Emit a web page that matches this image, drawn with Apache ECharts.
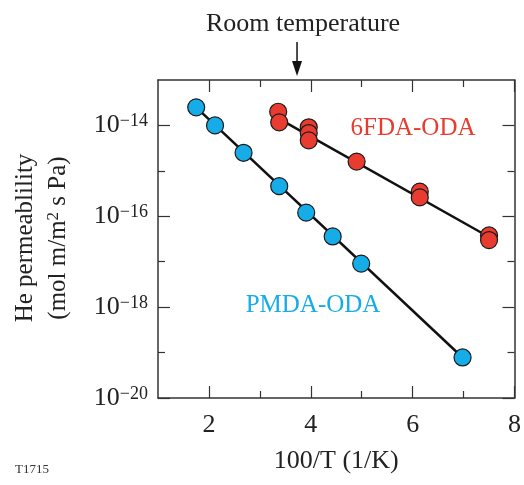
<!DOCTYPE html>
<html><head><meta charset="utf-8">
<script src="https://cdn.jsdelivr.net/npm/echarts@6/dist/echarts.min.js"></script>
<style>html,body{margin:0;padding:0;background:#fff}#c{width:524px;height:485px}</style>
</head><body><div id="c"></div>
<script>
// Data (x = 100/T in 1/K, y = He permeability in mol m/m2 s Pa)
var pmdaX = [1.75, 2.12, 2.68, 3.38, 3.91, 4.43, 4.99, 6.98];
var pmdaY = [2.5e-14, 1.0e-14, 2.5e-15, 4.6e-16, 1.2e-16, 3.6e-17, 9.1e-18, 7.8e-20];
var fdaX = [3.36, 3.38, 3.96, 3.96, 3.96, 4.90, 6.14, 6.14, 7.50, 7.50];
var fdaY = [2.0e-14, 1.17e-14, 9.1e-15, 6.8e-15, 4.7e-15, 1.6e-15, 3.5e-16, 2.6e-16, 3.8e-17, 3.0e-17];
var pmdaFitX = [1.75, 6.98];
var pmdaFitY = [2.5e-14, 7.8e-20];
var fdaFitX = [3.38, 7.50];
var fdaFitY = [1.4e-14, 3.5e-17];
var xMajorTicks = [2, 4, 6, 8];
var xMinorTicks = [3, 5, 7];
var yMajorTicks = [1e-20, 1e-18, 1e-16, 1e-14];
var yMinorTicks = [1e-19, 1e-17, 1e-15];
var roomTempX = 3.73;

var FONT = 'Liberation Serif';
var BLUE = '#16ace8';
var RED = '#e83c30';

function zip(xs, ys) { return xs.map(function (x, i) { return [x, ys[i]]; }); }

var chart = echarts.init(document.getElementById('c'), null, {renderer: 'canvas'});

function xAx(pos, ticks, len, labels, showLine) {
  return {
    type: 'value', position: pos, min: 1, max: 8, interval: 1,
    axisLine: {show: showLine, onZero: false, lineStyle: {color: '#333', width: 1.5}},
    splitLine: {show: false},
    axisTick: {show: true, inside: true, length: len, customValues: ticks, lineStyle: {color: '#333', width: 1.2}},
    axisLabel: labels ? {show: true, customValues: ticks, margin: 14, fontFamily: FONT, fontSize: 26, color: '#222'} : {show: false},
    name: labels && pos === 'bottom' ? '100/T (1/K)' : '',
    nameLocation: 'middle', nameGap: 50,
    nameTextStyle: {fontFamily: FONT, fontSize: 26, color: '#222'}
  };
}
function yAx(pos, ticks, len, labels, showLine) {
  return {
    type: 'log', logBase: 10, position: pos, min: 1e-20, max: 1e-13,
    axisLine: {show: showLine, onZero: false, lineStyle: {color: '#333', width: 1.5}},
    splitLine: {show: false},
    axisTick: {show: true, inside: true, length: len, customValues: ticks, lineStyle: {color: '#333', width: 1.2}},
    axisLabel: labels ? {
      show: true, customValues: ticks, margin: 10,
      formatter: function (v) {
        var e = Math.round(Math.log10(v));
        return '{b|10}{s|\u2212' + (-e) + '}';
      },
      rich: {
        b: {fontFamily: FONT, fontSize: 26, color: '#222', verticalAlign: 'bottom'},
        s: {fontFamily: FONT, fontSize: 18, color: '#222', verticalAlign: 'top'}
      }
    } : {show: false}
  };
}

var option = {
  backgroundColor: '#fff',
  animation: false,
  grid: {left: 158, right: 7, top: 80, bottom: 87},
  xAxis: [
    xAx('bottom', xMajorTicks, 12, true, true),
    xAx('bottom', xMinorTicks, 7, false, false),
    xAx('top', xMajorTicks, 12, false, true),
    xAx('top', xMinorTicks, 7, false, false)
  ],
  yAxis: [
    yAx('left', yMajorTicks, 12, true, true),
    yAx('left', yMinorTicks, 7, false, false),
    yAx('right', yMajorTicks, 12, false, true),
    yAx('right', yMinorTicks, 7, false, false)
  ],
  series: [
    {type: 'line', data: zip(pmdaFitX, pmdaFitY), symbol: 'none', z: 2,
     lineStyle: {color: '#111', width: 2.5}},
    {type: 'line', data: zip(fdaFitX, fdaFitY), symbol: 'none', z: 2,
     lineStyle: {color: '#111', width: 2.5}},
    {type: 'scatter', data: zip(pmdaX, pmdaY), symbol: 'circle', symbolSize: 17, z: 3,
     itemStyle: {color: BLUE, borderColor: '#1a1a1a', borderWidth: 1.2, opacity: 1}},
    {type: 'scatter', data: zip(fdaX, fdaY), symbol: 'circle', symbolSize: 17, z: 3,
     itemStyle: {color: RED, borderColor: '#1a1a1a', borderWidth: 1.2, opacity: 1}}
  ]
};
chart.setOption(option);

function px(x, y) { return chart.convertToPixel({xAxisIndex: 0, yAxisIndex: 0}, [x, y]); }
var arrowX = px(roomTempX, 1e-13)[0];

chart.setOption({
  graphic: [
    {type: 'text', x: 303, y: 24, style: {text: 'Room temperature', fontFamily: FONT, fontSize: 26, fill: '#222', align: 'center', verticalAlign: 'middle'}},
    {type: 'line', shape: {x1: arrowX, y1: 42, x2: arrowX, y2: 66}, style: {stroke: '#111', lineWidth: 1.5}},
    {type: 'polygon', shape: {points: [[arrowX - 5, 61], [arrowX + 5, 61], [arrowX, 76]]}, style: {fill: '#111'}},
    {type: 'text', x: 313, y: 305, style: {text: 'PMDA-ODA', fontFamily: FONT, fontSize: 25, fill: BLUE, align: 'center', verticalAlign: 'middle'}},
    {type: 'text', x: 413, y: 128, style: {text: '6FDA-ODA', fontFamily: FONT, fontSize: 25, fill: RED, align: 'center', verticalAlign: 'middle'}},
    {type: 'text', x: 25, y: 238, rotation: Math.PI / 2, style: {text: 'He permeablility', fontFamily: FONT, fontSize: 25, fill: '#222', align: 'center', verticalAlign: 'middle'}},
    {type: 'text', x: 58, y: 238, rotation: Math.PI / 2, style: {
      text: '{b|(mol m/m}{s|2}{b| s Pa)}', align: 'center', verticalAlign: 'middle',
      rich: {
        b: {fontFamily: FONT, fontSize: 25, fill: '#222', verticalAlign: 'bottom'},
        s: {fontFamily: FONT, fontSize: 17, fill: '#222', verticalAlign: 'top'}
      }}},
    {type: 'text', x: 15, y: 470, style: {text: 'T1715', fontFamily: FONT, fontSize: 13, fill: '#333', verticalAlign: 'middle'}}
  ]
});
</script>
</body></html>
